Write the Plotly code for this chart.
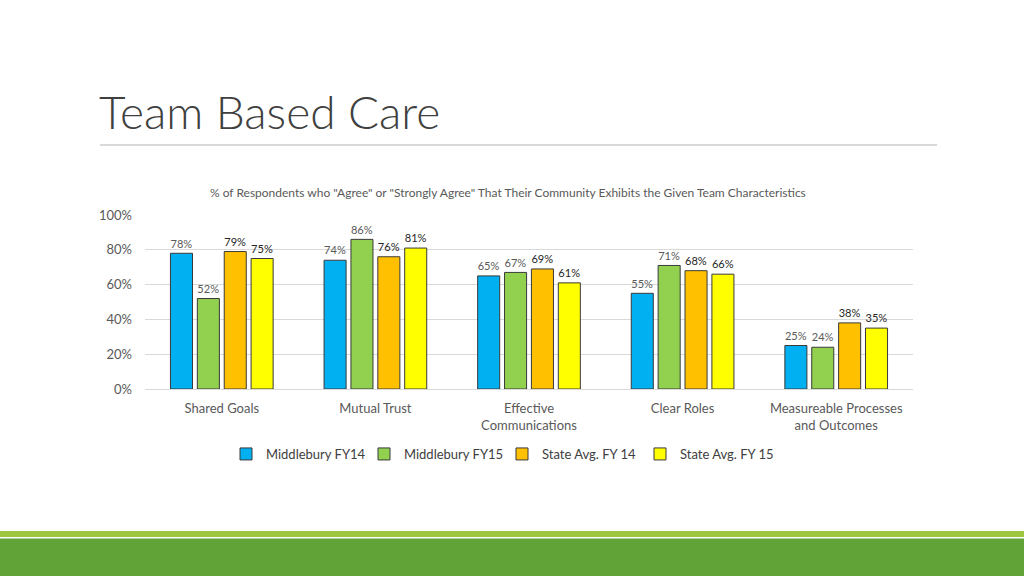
import plotly.graph_objects as go

categories = ["Shared Goals", "Mutual Trust", "Effective<br>Communications", "Clear Roles",
              "Measureable Processes<br>and Outcomes"]
series_names = ["Middlebury FY14", "Middlebury FY15", "State Avg. FY 14", "State Avg. FY 15"]
mid_fy14 = [0.78, 0.74, 0.65, 0.55, 0.25]
mid_fy15 = [0.52, 0.86, 0.67, 0.71, 0.24]
state_fy14 = [0.79, 0.76, 0.69, 0.68, 0.38]
state_fy15 = [0.75, 0.81, 0.61, 0.66, 0.35]
y_ticks = [0, 0.2, 0.4, 0.6, 0.8, 1.0]
y_tick_labels = ["0%", "20%", "40%", "60%", "80%", "100%"]

colors = ["#00B0F0", "#92D050", "#FFC000", "#FFFF00"]
label_colors = ["#595959", "#595959", "#262626", "#262626"]
FONT = "Lato"

W, H = 1024, 576
L, R, T, B = 145, 913, 215, 389  # plot area pixels


def px(x):
    return (x - L) / (R - L)


def py(y):
    return (B - y) / (B - T)


fig = go.Figure()
for name, vals, c, lc in zip(series_names, [mid_fy14, mid_fy15, state_fy14, state_fy15], colors, label_colors):
    fig.add_trace(go.Bar(
        name=name, x=categories, y=vals,
        marker=dict(color=c, line=dict(color="#3a3a3a", width=1)),
        text=[f"{round(v*100)}%" for v in vals],
        textposition="outside",
        textfont=dict(family=FONT, size=12, color=lc),
        cliponaxis=False,
    ))

fig.update_layout(
    width=W, height=H,
    margin=dict(l=L, r=W - R, t=T, b=H - B),
    paper_bgcolor="white", plot_bgcolor="white",
    barmode="group", bargap=0.30, bargroupgap=0.18,
    font=dict(family=FONT, color="#595959"),
    showlegend=True,
    legend=dict(orientation="h", x=px(226), xanchor="left", y=py(454), yanchor="middle",
                font=dict(family=FONT, size=13, color="#404040"),
                itemwidth=30, traceorder="normal", entrywidth=93),
    xaxis=dict(showgrid=False, showline=False, ticks="",
               tickfont=dict(family=FONT, size=13, color="#595959"), ticklabelstandoff=10),
    yaxis=dict(range=[0, 1.0], tickvals=y_ticks, ticktext=y_tick_labels,
               showgrid=True, gridcolor="#D9D9D9", gridwidth=1, zeroline=True,
               zerolinecolor="#D9D9D9", zerolinewidth=1, showline=False,
               tickfont=dict(family=FONT, size=13, color="#595959"), ticklabelstandoff=12),
)

shapes = [
    # title underline
    dict(type="line", xref="paper", yref="paper", x0=px(100), x1=px(937), y0=py(145), y1=py(145),
         line=dict(color="#D9D9D9", width=2)),
    # bottom green band
    dict(type="rect", xref="paper", yref="paper", x0=px(-2), x1=px(W + 2), y0=py(531), y1=py(537),
         fillcolor="#9DC73F", line=dict(width=0), layer="below"),
    dict(type="rect", xref="paper", yref="paper", x0=px(-2), x1=px(W + 2), y0=py(538.5), y1=py(H + 2),
         fillcolor="#62A338", line=dict(width=0), layer="below"),
]
fig.update_layout(shapes=shapes)

fig.add_annotation(text="Team Based Care", xref="paper", yref="paper", x=px(97), y=py(112),
                   xanchor="left", yanchor="middle", showarrow=False,
                   font=dict(family=FONT, size=46, color="#404040", weight=300))
fig.add_annotation(text='% of Respondents who "Agree" or "Strongly Agree" That Their Community Exhibits the Given Team Characteristics',
                   xref="paper", yref="paper", x=px(508), y=py(192), xanchor="center", yanchor="middle",
                   showarrow=False, font=dict(family=FONT, size=12, color="#595959"))

fig.write_html("out.html", config={"displayModeBar": False},
               post_script="document.body.style.margin='0';document.body.style.overflow='hidden';")
